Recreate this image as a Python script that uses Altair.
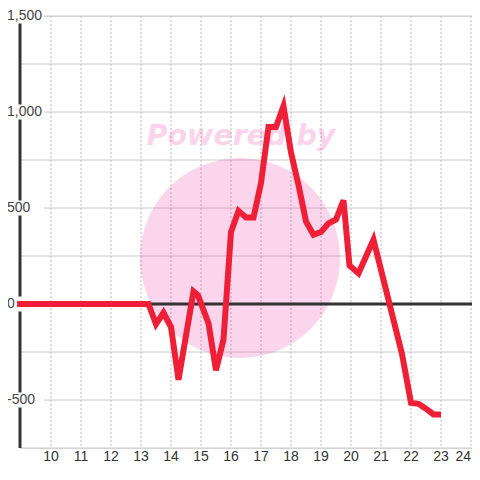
import altair as alt
import pandas as pd

# ---- data ----
hours = [8.87, 13.25, 13.5, 13.75, 14.0, 14.25, 14.75, 14.9, 15.25, 15.5, 15.75,
         16.0, 16.25, 16.5, 16.75, 17.0, 17.25, 17.5, 17.75, 18.0, 18.25, 18.5,
         18.75, 19.0, 19.25, 19.5, 19.75, 19.95, 20.25, 20.75, 21.7, 22.0,
         22.25, 22.5, 22.75, 23.0]
values = [0, 0, -105, -45, -120, -395, 65, 45, -100, -345, -185,
          375, 485, 450, 450, 630, 922, 922, 1030, 790, 620, 430,
          360, 375, 420, 440, 540, 200, 160, 335, -260, -515,
          -520, -545, -575, -575]

y_tick_values = [1500, 1000, 500, 0, -500]
y_tick_labels = ["1,500", "1,000", "500", "0", "-500"]
y_grid_values = [-750, -500, -250, 0, 250, 500, 750, 1000, 1250, 1500]
x_label_values = list(range(10, 25))
x_grid_values = list(range(10, 25))
watermark_text = ["Powered by"]

line_df = pd.DataFrame({"hour": hours, "value": values})
label_df = pd.DataFrame({"v": y_tick_values, "label": y_tick_labels})
hgrid_df = pd.DataFrame({"v": y_grid_values})
vgrid_df = pd.DataFrame({"hour": x_grid_values})
xlab_df = pd.DataFrame({"hour": x_label_values})
wm_df = pd.DataFrame({"t": watermark_text})

FONT = "Liberation Sans"
W, H = 452, 432
X_DOMAIN = [8.967, 8.967 + W / 30.0]
Y_DOMAIN = [-750, 1500]
LAST_X = x_label_values[-1]

xscale = alt.Scale(domain=X_DOMAIN, nice=False, zero=False)
yscale = alt.Scale(domain=Y_DOMAIN, nice=False, zero=False)

# horizontal solid gridlines
hgrid = alt.Chart(hgrid_df).mark_rule(color="#cccccc", strokeWidth=1).encode(
    y=alt.Y("v:Q", scale=yscale, axis=None),
    x=alt.value(0), x2=alt.value(W),
)

# vertical dotted gridlines
vgrid = alt.Chart(vgrid_df).mark_rule(
    color="#bbbbbb", strokeWidth=1, strokeDash=[2, 2]
).encode(
    x=alt.X("hour:Q", scale=xscale, axis=None),
    y=alt.value(0), y2=alt.value(H),
)

# y axis line: from the lowest to the highest gridline, at the x-domain start
yaxis_line = alt.Chart(hgrid_df).transform_aggregate(
    lo="min(v)", hi="max(v)"
).transform_calculate(
    x0=str(X_DOMAIN[0])
).mark_rule(color="#333333", strokeWidth=3).encode(
    x=alt.X("x0:Q", scale=xscale, axis=None),
    y=alt.Y("lo:Q", scale=yscale, axis=None),
    y2="hi:Q",
)

# x tick labels (the last one right-aligned so it stays inside the page)
xlabels = alt.Chart(xlab_df).transform_filter(f"datum.hour < {LAST_X}").mark_text(
    font=FONT, fontSize=14, color="#333333", align="center", baseline="middle"
).encode(
    x=alt.X("hour:Q", scale=xscale, axis=None),
    y=alt.value(H + 9),
    text=alt.Text("hour:Q", format="d"),
)
xlabel_last = alt.Chart(xlab_df).transform_filter(f"datum.hour >= {LAST_X}").mark_text(
    font=FONT, fontSize=14, color="#333333", align="right", baseline="middle"
).encode(
    x=alt.X("hour:Q", scale=xscale, axis=None),
    y=alt.value(H + 9),
    text=alt.Text("hour:Q", format="d"),
)

# watermark
circle = alt.Chart(wm_df).mark_circle(
    size=40000, color="#e62da0", opacity=0.2
).encode(x=alt.value(220), y=alt.value(242))

wm_txt = alt.Chart(wm_df).mark_text(
    font="DejaVu Sans", fontSize=28.5, fontWeight="bold", fontStyle="italic",
    color="#ee3aa5", opacity=0.22, align="center", baseline="alphabetic"
).encode(x=alt.value(221), y=alt.value(129), text="t:N")

# white backgrounds behind y labels
label_bg = alt.Chart(label_df).mark_tick(
    color="white", thickness=15, size=39, opacity=1
).encode(y=alt.Y("v:Q", scale=yscale, axis=None), x=alt.value(4.5))

# dark zero line
zero_rule = alt.Chart(label_df).transform_filter("datum.v == 0").mark_rule(
    color="#333333", strokeWidth=3
).encode(
    y=alt.Y("v:Q", scale=yscale, axis=None),
    x=alt.value(0), x2=alt.value(W),
)

line = alt.Chart(line_df).mark_line(
    color="#ee1f36", strokeWidth=6, strokeJoin="miter"
).encode(
    x=alt.X("hour:Q", scale=xscale, axis=None),
    y=alt.Y("value:Q", scale=yscale, axis=None),
)

ylabels = alt.Chart(label_df).mark_text(
    font=FONT, fontSize=14, color="#444444", align="left", baseline="middle"
).encode(y=alt.Y("v:Q", scale=yscale, axis=None), x=alt.value(-13), text="label:N")

chart = alt.layer(
    hgrid, vgrid, yaxis_line, xlabels, xlabel_last, circle, wm_txt, label_bg,
    zero_rule, line, ylabels
).properties(
    width=W, height=H,
    autosize=alt.AutoSizeParams(type="none"),
    padding={"left": 12, "top": 8, "right": 0, "bottom": 18},
).configure_view(stroke=None).configure(background="white")

chart.save("out.html", embed_options={"renderer": "svg", "actions": False})
